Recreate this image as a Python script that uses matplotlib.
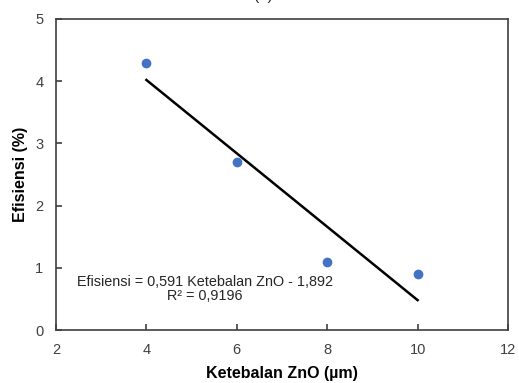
import matplotlib.pyplot as plt
import numpy as np

plt.rcParams["font.family"] = ["Liberation Sans", "DejaVu Sans"]

thickness = np.array([4, 6, 8, 10])
efficiency = np.array([4.3, 2.7, 1.1, 0.9])
eq_text = "Efisiensi = 0,591 Ketebalan ZnO - 1,892"
r2_text = "R² = 0,9196"

fig = plt.figure(figsize=(5.19, 3.83), dpi=100)
ax = fig.add_axes([56 / 519, 1 - 330 / 383, 452 / 519, 311 / 383])

# linear trendline from the points
slope, intercept = np.polyfit(thickness, efficiency, 1)
xs = np.array([thickness.min(), thickness.max()])
ax.plot(xs, slope * xs + intercept, color="black", lw=1.8, zorder=2)
ax.plot(thickness, efficiency, "o", color="#4472C4", ms=6, zorder=3)

ax.set_xlim(2, 12)
ax.set_ylim(0, 5)
ax.set_xticks([2, 4, 6, 8, 10, 12])
ax.set_yticks([0, 1, 2, 3, 4, 5])
for s in ax.spines.values():
    s.set_color("#404040")
    s.set_linewidth(1.2)
ax.tick_params(direction="in", length=4, width=1.2, color="#404040",
               labelsize=10.5, labelcolor="#404040", pad=9)

ax.set_xlabel("Ketebalan ZnO (µm)", fontsize=11.5, fontweight="bold", labelpad=6.5)
ax.set_ylabel("Efisiensi (%)", fontsize=11.5, fontweight="bold", labelpad=5)

ax.text(5.3, 0.66, eq_text + "\n" + r2_text, fontsize=10.4, ha="center",
        va="center", color="#262626", linespacing=1.0, multialignment="center")

fig.text(263 / 519, 1.0, "(b)", fontsize=11, ha="center", va="baseline",
         color="#262626")

fig.savefig("out.png", dpi=100)
